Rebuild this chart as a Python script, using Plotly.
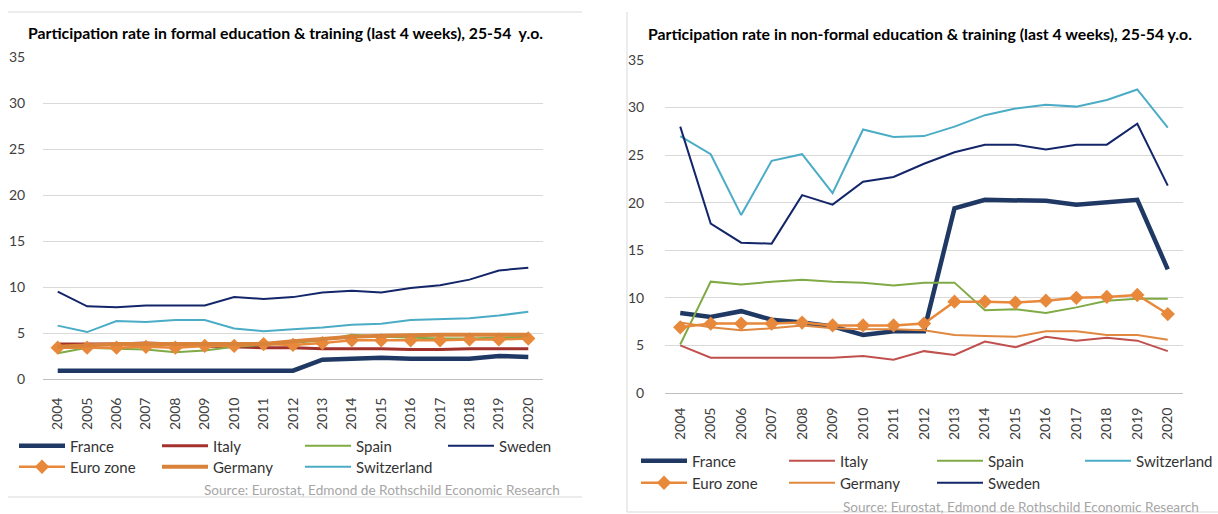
import plotly.graph_objects as go

years = [str(y) for y in range(2004, 2021)]

# Formal education & training (left panel)
formal_france = [0.9, 0.9, 0.9, 0.9, 0.9, 0.8, 0.8, 0.9, 0.9, 2.1, 2.2, 2.3, 2.2, 2.2, 2.2, 2.5, 2.4]
formal_italy = [3.8, 3.8, 3.8, 3.9, 3.8, 3.6, 3.5, 3.4, 3.4, 3.3, 3.3, 3.3, 3.2, 3.2, 3.3, 3.3, 3.3]
formal_spain = [2.8, 3.4, 3.3, 3.2, 2.9, 3.1, 3.5, 3.7, 3.9, 4.2, 4.8, 4.6, 4.5, 4.4, 4.4, 4.5, 4.6]
formal_sweden = [9.5, 7.9, 7.8, 8.0, 8.0, 8.0, 8.9, 8.7, 8.9, 9.4, 9.6, 9.4, 9.9, 10.2, 10.8, 11.8, 12.1]
formal_eurozone = [3.4, 3.4, 3.4, 3.5, 3.4, 3.6, 3.6, 3.8, 3.7, 3.9, 4.2, 4.2, 4.2, 4.2, 4.3, 4.3, 4.4]
formal_germany = [3.5, 3.7, 3.8, 3.8, 3.8, 3.9, 3.9, 3.8, 4.1, 4.4, 4.6, 4.7, 4.8, 4.8, 4.8, 4.8, 4.8]
formal_switzerland = [5.8, 5.1, 6.3, 6.2, 6.4, 6.4, 5.5, 5.2, 5.4, 5.6, 5.9, 6.0, 6.4, 6.5, 6.6, 6.9, 7.3]

# Non-formal education & training (right panel)
nonformal_france = [8.4, 8.0, 8.6, 7.7, 7.4, 7.0, 6.1, 6.5, 6.5, 19.4, 20.3, 20.2, 20.2, 19.8, 20.0, 20.3, 13.0]
nonformal_italy = [5.0, 3.7, 3.7, 3.7, 3.7, 3.7, 3.9, 3.5, 4.4, 4.0, 5.4, 4.8, 5.9, 5.5, 5.8, 5.5, 4.4]
nonformal_spain = [5.1, 11.7, 11.4, 11.7, 11.9, 11.7, 11.6, 11.3, 11.6, 11.6, 8.7, 8.8, 8.4, 9.0, 9.7, 9.9, 9.9]
nonformal_switzerland = [27.0, 25.1, 18.7, 24.4, 25.1, 21.0, 27.7, 26.9, 27.0, 28.0, 29.2, 29.9, 30.3, 30.1, 30.8, 31.9, 27.9]
nonformal_eurozone = [6.9, 7.3, 7.3, 7.3, 7.4, 7.1, 7.1, 7.1, 7.3, 9.6, 9.6, 9.5, 9.7, 10.0, 10.1, 10.3, 8.3]
nonformal_germany = [7.4, 6.9, 6.6, 6.8, 7.1, 6.8, 6.7, 6.7, 6.6, 6.1, 6.0, 5.9, 6.5, 6.5, 6.1, 6.1, 5.6]
nonformal_sweden = [28.0, 17.8, 15.8, 15.7, 20.8, 19.8, 22.2, 22.7, 24.1, 25.3, 26.1, 26.1, 25.6, 26.1, 26.1, 28.3, 21.8]

y_ticks = [0, 5, 10, 15, 20, 25, 30, 35]

title_left = "Participation rate in formal education & training (last 4 weeks), 25-54  y.o."
title_right = "Participation rate in non-formal education & training (last 4 weeks), 25-54 y.o."
source_text = "Source: Eurostat, Edmond de Rothschild Economic Research"

W, H = 1218, 514
FONT = "Lato"
C_FRANCE = "#1F3864"
C_SWEDEN = "#14266A"
C_SPAIN = "#7FAA45"
C_SWISS = "#4BACC6"
C_EURO = "#E8883A"


def px_x(v):
    return v / W


def px_y(v):
    return 1 - v / H


fig = go.Figure()
legend_layout = {}
legend_count = [0]


def add(x, y, name, color, width, xa, ya, leg_x, leg_y, marker=False):
    legend_count[0] += 1
    n = legend_count[0]
    lid = "legend" if n == 1 else "legend%d" % n
    kw = dict(mode="lines")
    if marker:
        kw = dict(mode="lines+markers",
                  marker=dict(symbol="diamond", size=11, color=color))
    fig.add_trace(go.Scatter(x=x, y=y, name=name, line=dict(color=color, width=width),
                             xaxis=xa, yaxis=ya, legend=lid, showlegend=True, **kw))
    legend_layout[lid] = dict(orientation="h", font=dict(family=FONT, size=15, color="#333333"),
                              bgcolor="rgba(0,0,0,0)", itemwidth=46, xanchor="left",
                              yanchor="middle", xref="paper", yref="paper",
                              x=px_x(leg_x), y=px_y(leg_y), borderwidth=0,
                              itemclick=False, itemdoubleclick=False)


LX = [14, 157, 300, 443]
RX = [636, 784, 932, 1080]

# Left panel traces (draw order)
add(years, formal_france, "France", C_FRANCE, 4.5, "x", "y", LX[0], 446)
add(years, formal_italy, "Italy", "#A3322C", 3, "x", "y", LX[1], 446)
add(years, formal_spain, "Spain", C_SPAIN, 2, "x", "y", LX[2], 446)
add(years, formal_sweden, "Sweden", C_SWEDEN, 2, "x", "y", LX[3], 446)
add(years, formal_eurozone, "Euro zone", C_EURO, 2.5, "x", "y", LX[0], 467, marker=True)
add(years, formal_germany, "Germany", "#D8823A", 4, "x", "y", LX[1], 467)
add(years, formal_switzerland, "Switzerland", C_SWISS, 2, "x", "y", LX[2], 467)

# Right panel traces
add(years, nonformal_france, "France", C_FRANCE, 4.5, "x2", "y3", RX[0], 461)
add(years, nonformal_italy, "Italy", "#C0504D", 2, "x2", "y3", RX[1], 461)
add(years, nonformal_spain, "Spain", C_SPAIN, 2, "x2", "y3", RX[2], 461)
add(years, nonformal_switzerland, "Switzerland", C_SWISS, 2, "x2", "y3", RX[3], 461)
add(years, nonformal_eurozone, "Euro zone", C_EURO, 2.5, "x2", "y3", RX[0], 483, marker=True)
add(years, nonformal_germany, "Germany", "#E0883F", 2, "x2", "y3", RX[1], 483)
add(years, nonformal_sweden, "Sweden", C_SWEDEN, 2, "x2", "y3", RX[2], 483)

tickfont = dict(family=FONT, size=14, color="#404040")


def xaxis(domain, anchor, standoff):
    return dict(domain=domain, anchor=anchor, type="category", range=[-0.5, 16.5],
                tickangle=-90, tickfont=tickfont, showgrid=False, showline=True,
                linecolor="#BFBFBF", linewidth=1, ticks="outside", ticklen=standoff,
                tickcolor="rgba(0,0,0,0)", zeroline=False, fixedrange=True, automargin=False)


def yaxis(domain, anchor, side, overlay=None, grid=True, standoff=12):
    d = dict(domain=domain, anchor=anchor, side=side, range=[0, 35], tickvals=y_ticks,
             tickfont=tickfont, showgrid=grid, gridcolor="#D9D9D9", gridwidth=1,
             zeroline=False, showline=False, ticks="outside", ticklen=standoff,
             tickcolor="rgba(0,0,0,0)", fixedrange=True, automargin=False)
    if overlay:
        d["overlaying"] = overlay
    return d


L_dom_x = [px_x(43), px_x(543)]
L_dom_y = [px_y(379), px_y(57)]
R_dom_x = [px_x(665), px_x(1183)]
R_dom_y = [px_y(393), px_y(60)]

fig.update_layout(
    width=W, height=H,
    margin=dict(l=0, r=0, t=0, b=0, autoexpand=False),
    paper_bgcolor="white", plot_bgcolor="white",
    font=dict(family=FONT),
    xaxis=xaxis(L_dom_x, "y", 12),
    yaxis=yaxis(L_dom_y, "x", "left", standoff=14),
    yaxis2=yaxis(L_dom_y, "x", "right", overlay="y", grid=False, standoff=16),
    xaxis2=xaxis(R_dom_x, "y3", 8),
    yaxis3=yaxis(R_dom_y, "x2", "left", standoff=17),
    yaxis4=yaxis(R_dom_y, "x2", "right", overlay="y3", grid=False, standoff=15),
    showlegend=True,
    **legend_layout,
)

fig.add_annotation(text="<b>" + title_left.replace("&", "&amp;") + "</b>", x=px_x(285), y=px_y(32),
                   xref="paper", yref="paper", showarrow=False, xanchor="center", yanchor="middle",
                   font=dict(family=FONT, size=15.8, color="#000000"))
fig.add_annotation(text="<b>" + title_right.replace("&", "&amp;") + "</b>", x=px_x(920), y=px_y(33),
                   xref="paper", yref="paper", showarrow=False, xanchor="center", yanchor="middle",
                   font=dict(family=FONT, size=15.8, color="#000000"))
fig.add_annotation(text=source_text, x=px_x(562), y=px_y(490), xref="paper", yref="paper",
                   showarrow=False, xanchor="right", yanchor="middle",
                   font=dict(family=FONT, size=13.6, color="#A6A6A6"))
fig.add_annotation(text=source_text, x=px_x(1201), y=px_y(507), xref="paper", yref="paper",
                   showarrow=False, xanchor="right", yanchor="middle",
                   font=dict(family=FONT, size=13.6, color="#A6A6A6"))

frame = dict(color="#D9D9D9", width=1)
for x0, y0, x1, y1 in [(8, 12, 582, 12), (8, 497, 582, 497), (627, 12, 627, 512), (627, 512, 1218, 512)]:
    fig.add_shape(type="line", xref="paper", yref="paper", x0=px_x(x0), y0=px_y(y0),
                  x1=px_x(x1), y1=px_y(y1), line=frame)

fig.write_html("out.html",
               config={"displayModeBar": False, "staticPlot": False},
               post_script="document.documentElement.style.margin='0';"
                           "document.body.style.margin='0';"
                           "document.body.style.overflow='hidden';")
